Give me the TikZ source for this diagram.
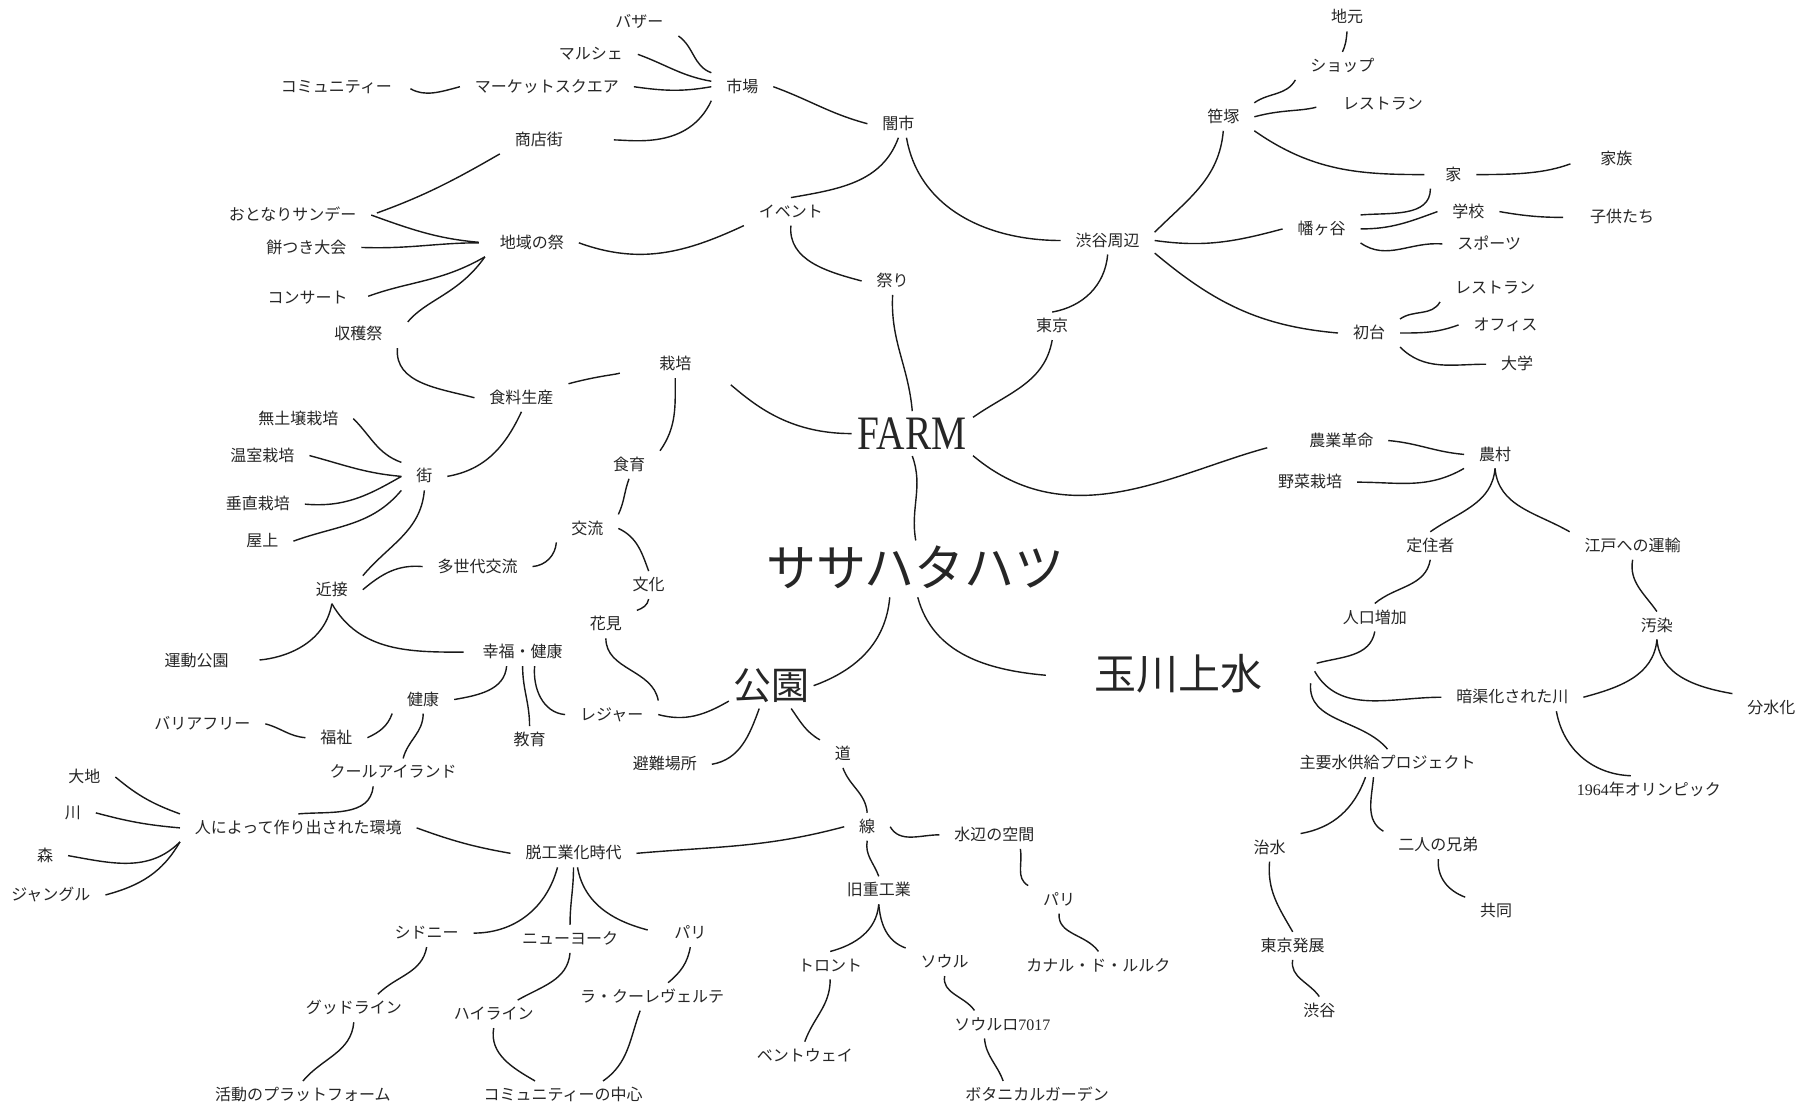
\documentclass[tikz,border=0pt]{standalone}
\usepackage{fontspec}
\setmainfont{Noto Sans CJK JP}
\newfontfamily\farmfont[FakeStretch=0.82]{Liberation Serif}
\newfontfamily\serifnum{Liberation Serif}
\begin{document}
\begin{tikzpicture}[x=0.57815pt,y=0.57815pt,
  lbl/.style={font=\fontsize{8}{9}\selectfont, text=black!85, inner xsep=7pt, inner ysep=2.5pt, outer sep=0.5pt, text height=6.8pt, text depth=1.2pt},
  link/.style={draw=black!90, line width=0.7pt}]
\fill[white] (0,0) rectangle (1568,-962);
\useasboundingbox (0,0) rectangle (1568,-962);
% ---- big nodes
\node[font=\farmfont\fontsize{24}{26}\selectfont, text=black!85, inner sep=3pt, text height=16pt, text depth=0pt] (farm) at (789,-375) {FARM};
\node[font=\fontsize{25}{28}\selectfont, text=black!85, inner sep=2pt, text height=21pt, text depth=3pt] (sasahata) at (792,-492) {ササハタハツ};
\node[font=\fontsize{19}{21}\selectfont, text=black!85, inner sep=2pt, text height=16pt, text depth=2.5pt] (koen) at (667,-593) {公園};
\node[font=\fontsize{21}{23}\selectfont, text=black!85, inner xsep=24pt, inner ysep=2pt, text height=17.5pt, text depth=2.8pt] (tamagawa) at (1019,-584) {玉川上水};
% ---- top left
\node[lbl] (bazaar) at (553,-19) {バザー};
\node[lbl] (marche) at (511,-47) {マルシェ};
\node[lbl] (msq) at (473,-75) {マーケットスクエア};
\node[lbl] (community) at (291,-75) {コミュニティー};
\node[lbl] (ichiba) at (642,-75) {市場};
\node[lbl] (shotengai) at (466,-121) {商店街};
\node[lbl] (yamiichi) at (777,-107) {闇市};
\node[lbl] (otonari) at (253,-186) {おとなりサンデー};
\node[lbl] (mochi) at (265,-214) {餅つき大会};
\node[lbl] (chiiki) at (460,-210) {地域の祭};
\node[lbl] (concert) at (266,-258) {コンサート};
\node[lbl] (shukaku) at (310,-289) {収穫祭};
\node[lbl] (event) at (684,-183) {イベント};
\node[lbl] (matsuri) at (772,-243) {祭り};
% ---- top right
\node[lbl] (shuhen) at (958,-208) {渋谷周辺};
\node[lbl] (tokyo) at (910,-282) {東京};
\node[lbl] (sasazuka) at (1058,-101) {笹塚};
\node[lbl] (jimoto) at (1165,-15) {地元};
\node[lbl] (shop) at (1161,-57) {ショップ};
\node[lbl] (rest1) at (1196,-90) {レストラン};
\node[lbl] (ie) at (1257,-151) {家};
\node[lbl] (kazoku) at (1398,-137) {家族};
\node[lbl] (hatagaya) at (1143,-198) {幡ヶ谷};
\node[lbl] (gakko) at (1270,-183) {学校};
\node[lbl] (kodomo) at (1403,-188) {子供たち};
\node[lbl] (sports) at (1288,-211) {スポーツ};
\node[lbl] (rest2) at (1293,-249) {レストラン};
\node[lbl] (office) at (1302,-281) {オフィス};
\node[lbl] (daigaku) at (1312,-315) {大学};
\node[lbl] (hatsudai) at (1184,-288) {初台};
% ---- middle left
\node[lbl] (saibai) at (584,-315) {栽培};
\node[lbl] (shokuryo) at (451,-344) {食料生産};
\node[lbl] (mudojo) at (258,-362) {無土壌栽培};
\node[lbl] (onshitsu) at (227,-394) {温室栽培};
\node[lbl] (machi) at (367,-412) {街};
\node[lbl] (suichoku) at (223,-436) {垂直栽培};
\node[lbl] (okujo) at (227,-468) {屋上};
\node[lbl] (shokuiku) at (544,-402) {食育};
\node[lbl] (koryu) at (508,-457) {交流};
\node[lbl] (tasedai) at (413,-490) {多世代交流};
\node[lbl] (bunka) at (561,-506) {文化};
\node[lbl] (hanami) at (524,-540) {花見};
\node[lbl] (kinsetsu) at (287,-510) {近接};
\node[lbl] (undo) at (170,-572) {運動公園};
\node[lbl] (kofuku) at (452,-564) {幸福・健康};
\node[lbl] (kenko) at (366,-605) {健康};
\node[lbl] (barrier) at (175,-626) {バリアフリー};
\node[lbl] (fukushi) at (291,-638) {福祉};
\node[lbl] (kyoiku) at (458,-640) {教育};
\node[lbl] (leisure) at (529,-618) {レジャー};
% ---- right
\node[lbl] (kakumei) at (1160,-381) {農業革命};
\node[lbl] (noson) at (1293,-393) {農村};
\node[lbl] (yasai) at (1133,-417) {野菜栽培};
\node[lbl] (teiju) at (1237,-472) {定住者};
\node[lbl] (edo) at (1412,-472) {江戸への運輸};
\node[lbl] (jinko) at (1189,-534) {人口増加};
\node[lbl] (osen) at (1433,-541) {汚染};
\node[lbl] (ankyo) at (1308,-603) {暗渠化された川};
\node[lbl] (bunsui) at (1532,-612) {分水化};
\node[lbl] (shuyo) at (1200,-660) {主要水供給プロジェクト};
\node[lbl] (olympic) at (1426,-683) {{\serifnum 1964}年オリンピック};
\node[lbl] (chisui) at (1098,-733) {治水};
\node[lbl] (futari) at (1244,-731) {二人の兄弟};
\node[lbl] (kyodo) at (1294,-788) {共同};
\node[lbl] (hatten) at (1118,-818) {東京発展};
\node[lbl] (shibuya) at (1141,-874) {渋谷};
% ---- bottom left
\node[lbl] (daichi) at (73,-672) {大地};
\node[lbl] (kawa) at (63,-703) {川};
\node[lbl] (mori) at (39,-740) {森};
\node[lbl] (jungle) at (44,-774) {ジャングル};
\node[lbl] (cool) at (340,-668) {クールアイランド};
\node[lbl] (hito) at (258,-716) {人によって作り出された環境};
\node[lbl] (datsu) at (496,-738) {脱工業化時代};
\node[lbl] (sydney) at (369,-807) {シドニー};
\node[lbl] (ny) at (493,-812) {ニューヨーク};
\node[lbl] (paris1) at (597,-807) {パリ};
\node[lbl] (goodline) at (306,-872) {グッドライン};
\node[lbl] (highline) at (427,-877) {ハイライン};
\node[lbl] (coulee) at (564,-862) {ラ・クーレヴェルテ};
\node[lbl] (katsudo) at (262,-947) {活動のプラットフォーム};
\node[lbl] (comcenter) at (487,-947) {コミュニティーの中心};
% ---- bottom centre
\node[lbl] (hinan) at (575,-661) {避難場所};
\node[lbl] (michi) at (729,-652) {道};
\node[lbl] (sen) at (750,-715) {線};
\node[lbl] (mizube) at (860,-722) {水辺の空間};
\node[lbl] (kyuju) at (760,-770) {旧重工業};
\node[lbl] (toronto) at (718,-835) {トロント};
\node[lbl] (seoul) at (817,-832) {ソウル};
\node[lbl] (paris2) at (916,-778) {パリ};
\node[lbl] (canal) at (950,-835) {カナル・ド・ルルク};
\node[lbl] (s7017) at (867,-886) {ソウルロ{\serifnum 7017}};
\node[lbl] (bentway) at (696,-913) {ベントウェイ};
\node[lbl] (botanical) at (897,-947) {ボタニカルガーデン};

% ================= connectors
\draw[link] (bazaar.south east) to[out=-35,in=160] (ichiba.north west);
\draw[link] (marche.east) to[out=-20,in=170] (ichiba.170);
\draw[link] (msq.east) to[out=-8,in=-170] (ichiba.west);
\draw[link, shorten <=2pt] (community.east) to[out=-30,in=-165] (msq.west);
\draw[link, shorten >=18pt] (ichiba.south west) to[out=-115,in=0] (shotengai.east);
\draw[link] (ichiba.east) to[out=-20,in=165] (yamiichi.west);
\draw[link] (yamiichi.south) to[out=-110,in=10] (event.north);
\draw[link] (yamiichi.-60) to[out=-80,in=180] (shuhen.west);
\draw[link] (chiiki.east) to[out=-20,in=-155] (event.south west);
\draw[link] (event.south) to[out=-95,in=165] (matsuri.west);
\draw[link] (matsuri.south) to[out=-93,in=95] (farm.north);
\draw[link] (shuhen.south) to[out=-95,in=10] (tokyo.north);
\draw[link] (tokyo.south) to[out=-100,in=35] (farm.15);
\draw[link] (shuhen.10) to[out=45,in=-95] (sasazuka.south);
\draw[link] (shuhen.east) to[out=-8,in=-165] (hatagaya.west);
\draw[link] (shuhen.-15) to[out=-40,in=175] (hatsudai.west);
\draw[link] (sasazuka.north east) to[out=35,in=-120] (shop.south west);
\draw[link] (shop.north) to[out=65,in=-95] (jimoto.south);
\draw[link, shorten >=6pt] (sasazuka.east) to[out=15,in=-165] (rest1.west);
\draw[link, shorten >=3pt] (sasazuka.south east) to[out=-35,in=180] (ie.west);
\draw[link, shorten >=8pt] (ie.east) to[out=0,in=-160] (kazoku.west);
\draw[link] (ie.south west) to[out=-90,in=5] (hatagaya.north east);
\draw[link] (hatagaya.east) to[out=0,in=-160] (gakko.west);
\draw[link] (hatagaya.south east) to[out=-35,in=175] (sports.west);
\draw[link, shorten >=6pt] (gakko.east) to[out=-10,in=180] (kodomo.west);
\draw[link] (hatsudai.north east) to[out=35,in=-120] (rest2.south west);
\draw[link] (hatsudai.east) to[out=0,in=-160] (office.west);
\draw[link] (hatsudai.south east) to[out=-45,in=180] (daigaku.west);
\draw[link, shorten >=3pt] (shotengai.south west) to[out=-150,in=20] (otonari.east);
\draw[link, shorten >=3pt] (otonari.east) to[out=-20,in=175] (chiiki.west);
\draw[link, shorten >=3pt] (mochi.east) to[out=-2,in=180] (chiiki.west);
\draw[link, shorten >=3pt] (chiiki.south west) to[out=-150,in=20] (concert.east);
\draw[link, shorten >=8pt] (chiiki.south west) to[out=-125,in=50] (shukaku.east);
\draw[link] (shukaku.south east) to[out=-95,in=165] (shokuryo.west);
\draw[link, shorten >=13pt] (shokuryo.north east) to[out=15,in=-160] (saibai.west);
\draw[link, shorten <=16pt] (saibai.east) to[out=-40,in=180] (farm.west);
\draw[link] (saibai.south) to[out=-90,in=55] (shokuiku.north east);
\draw[link] (shokuiku.south) to[out=-110,in=65] (koryu.north east);
\draw[link] (koryu.south west) to[out=-95,in=5] (tasedai.east);
\draw[link] (koryu.east) to[out=-25,in=110] (bunka.north);
\draw[link] (bunka.south) to[out=-100,in=20] (hanami.north east);
\draw[link] (hanami.south) to[out=-90,in=100] (leisure.north east);
\draw[link] (leisure.east) to[out=-15,in=-150] (koen.200);
\draw[link] (koen.east) to[out=20,in=-95] ([xshift=-13pt]sasahata.south);
\draw[link] ([xshift=1pt]sasahata.south) to[out=-75,in=175] (tamagawa.west);
\draw[link] (farm.south) to[out=-70,in=100] (sasahata.north);
\draw[link, shorten >=14pt] (farm.-20) to[out=-40,in=-165] (kakumei.west);
\draw[link] (kakumei.east) to[out=-5,in=175] (noson.west);
\draw[link] (noson.south west) to[out=-150,in=0] (yasai.east);
\draw[link] (noson.south) to[out=-95,in=35] (teiju.north);
\draw[link] (noson.south) to[out=-85,in=150] (edo.north west);
\draw[link] (teiju.south) to[out=-100,in=40] (jinko.north);
\draw[link] (jinko.south) to[out=-100,in=15] ([yshift=6pt,xshift=3pt]tamagawa.east);
\draw[link] ([yshift=2pt,xshift=2pt]tamagawa.east) to[out=-60,in=180] (ankyo.west);
\draw[link] ([yshift=-4pt]tamagawa.east) to[out=-95,in=130] (shuyo.north);
\draw[link] (edo.south) to[out=-100,in=125] (osen.north);
\draw[link] (osen.south) to[out=-95,in=15] (ankyo.east);
\draw[link] (osen.south) to[out=-85,in=170] (bunsui.north west);
\draw[link] ([xshift=22pt]ankyo.south) to[out=-80,in=178] ([xshift=-9pt]olympic.north);
\draw[link] ([xshift=-11pt]shuyo.south) to[out=-110,in=10] (chisui.north east);
\draw[link] ([xshift=-7pt]shuyo.south) to[out=-95,in=150] (futari.north west);
\draw[link] (futari.south) to[out=-95,in=160] (kyodo.north west);
\draw[link] (chisui.south) to[out=-95,in=120] (hatten.north);
\draw[link] (hatten.south) to[out=-100,in=125] (shibuya.north);
\draw[link] (shokuryo.south) to[out=-115,in=10] (machi.east);
\draw[link] (mudojo.east) to[out=-45,in=160] (machi.north west);
\draw[link] (onshitsu.east) to[out=-15,in=175] (machi.west);
\draw[link] (machi.west) to[out=-150,in=-5] (suichoku.east);
\draw[link] (machi.south west) to[out=-130,in=20] (okujo.east);
\draw[link] (machi.south) to[out=-95,in=50] (kinsetsu.north east);
\draw[link] (tasedai.west) to[out=175,in=40] (kinsetsu.east);
\draw[link, shorten >=8pt] (kinsetsu.south) to[out=-100,in=5] (undo.east);
\draw[link, shorten >=2pt] (kinsetsu.south) to[out=-60,in=180] (kofuku.west);
\draw[link] ([xshift=-8pt]kofuku.south) to[out=-95,in=10] (kenko.east);
\draw[link] (kofuku.south) to[out=-90,in=90] (kyoiku.north);
\draw[link] ([xshift=6pt]kofuku.south) to[out=-95,in=175] (leisure.west);
\draw[link] (kenko.south west) to[out=-110,in=25] (fukushi.east);
\draw[link] (barrier.east) to[out=-15,in=175] (fukushi.west);
\draw[link] (kenko.south) to[out=-90,in=75] ([xshift=5pt]cool.north);
\draw[link] ([xshift=-10pt]cool.south) to[out=-95,in=5] (hito.north);
\draw[link] (daichi.east) to[out=-40,in=160] (hito.north west);
\draw[link] (kawa.east) to[out=-15,in=175] (hito.west);
\draw[link] (mori.east) to[out=-10,in=-135] (hito.south west);
\draw[link] (jungle.east) to[out=15,in=-120] (hito.south west);
\draw[link] (hito.east) to[out=-20,in=170] (datsu.west);
\draw[link] (datsu.east) to[out=5,in=-165] (sen.west);
\draw[link] ([xshift=-8pt]datsu.south) to[out=-105,in=0] (sydney.east);
\draw[link] (datsu.south) to[out=-90,in=90] (ny.north);
\draw[link, shorten >=6pt] ([xshift=2pt]datsu.south) to[out=-80,in=165] (paris1.west);
\draw[link] (sydney.south) to[out=-100,in=45] ([xshift=12pt]goodline.north);
\draw[link] (goodline.south) to[out=-95,in=50] (katsudo.north);
\draw[link] (ny.south) to[out=-95,in=30] ([xshift=12pt]highline.north);
\draw[link] (highline.south) to[out=-100,in=150] ([xshift=-14pt]comcenter.north);
\draw[link] (paris1.south) to[out=-100,in=40] ([xshift=8pt]coulee.north);
\draw[link] ([xshift=-6pt]coulee.south) to[out=-110,in=35] ([xshift=20pt]comcenter.north);
\draw[link] ([xshift=-6pt]koen.south) to[out=-110,in=10] (hinan.east);
\draw[link] ([xshift=10pt]koen.south) to[out=-55,in=150] (michi.north west);
\draw[link] (michi.south) to[out=-70,in=95] (sen.north);
\draw[link] (sen.east) to[out=-60,in=180] (mizube.west);
\draw[link] (sen.south) to[out=-100,in=110] (kyuju.north);
\draw[link] (kyuju.south) to[out=-95,in=15] (toronto.north);
\draw[link] (kyuju.south) to[out=-85,in=160] (seoul.north west);
\draw[link] (toronto.south) to[out=-90,in=70] (bentway.north);
\draw[link] (seoul.south) to[out=-100,in=125] ([xshift=-14pt]s7017.north);
\draw[link] ([xshift=-9pt]s7017.south) to[out=-85,in=110] ([xshift=-17pt]botanical.north);
\draw[link] ([xshift=13pt]mizube.south) to[out=-80,in=150] (paris2.north west);
\draw[link] (paris2.south) to[out=-95,in=125] (canal.north);
\end{tikzpicture}
\end{document}
